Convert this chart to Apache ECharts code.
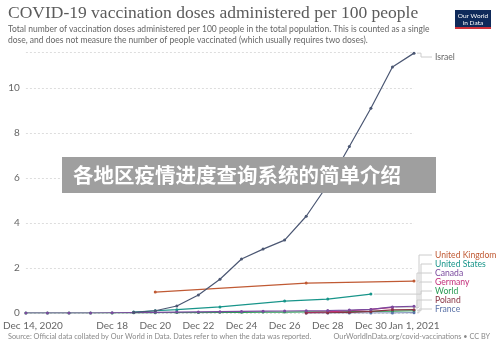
<!DOCTYPE html>
<html>
<head>
<meta charset="utf-8">
<script src="https://cdn.jsdelivr.net/npm/echarts@6/dist/echarts.min.js"></script>
<style>
  html, body { margin: 0; padding: 0; background: #fff; }
  #chart { width: 500px; height: 352px; }
</style>
</head>
<body>
<div id="chart"></div>
<script>
// dates Dec 14 2020 .. Jan 1 2021
const dates = [
  "Dec 14, 2020", "Dec 15", "Dec 16", "Dec 17", "Dec 18", "Dec 19", "Dec 20",
  "Dec 21", "Dec 22", "Dec 23", "Dec 24", "Dec 25", "Dec 26", "Dec 27",
  "Dec 28", "Dec 29", "Dec 30", "Dec 31", "Jan 1, 2021"
];
const shownTicks = ["Dec 14, 2020", "Dec 18", "Dec 20", "Dec 22", "Dec 24", "Dec 26", "Dec 28", "Dec 30", "Jan 1, 2021"];

// values per 100 people (null = no report that day)
const israel = [null, null, null, null, null, 0.03, 0.1, 0.31, 0.8, 1.5, 2.4, 2.84, 3.24, 4.3, 5.7, 7.4, 9.1, 10.93, 11.55];
const unitedKingdom = [null, null, null, null, null, null, 0.93, null, null, null, null, null, null, 1.33, null, null, null, null, 1.42];
const unitedStates = [null, null, null, null, null, 0.04, 0.1, 0.15, null, 0.27, null, null, 0.53, null, 0.62, null, 0.84, null, null];
const canada = [0.0, 0.0, 0.0, 0.0, 0.01, 0.02, 0.03, 0.04, 0.05, 0.06, 0.07, 0.08, 0.09, 0.1, 0.11, 0.13, 0.16, 0.27, 0.3];
const germany = [null, null, null, null, null, null, null, null, null, null, null, null, null, 0.02, 0.05, 0.1, 0.16, 0.25, null];
const world = [0.0, 0.0, 0.0, 0.0, 0.0, 0.01, 0.01, 0.02, 0.02, 0.03, 0.03, 0.04, 0.04, 0.05, 0.05, 0.06, 0.07, 0.08, 0.1];
const poland = [null, null, null, null, null, null, null, null, null, null, null, null, null, 0.0, 0.01, 0.03, 0.07, 0.14, 0.15];
const france = [null, null, null, null, null, null, null, null, null, null, null, null, null, 0.0, 0.0, 0.0, 0.0, 0.0, 0.01];

const countries = [
  { name: "Israel", data: israel, color: "#4b5773", labelColor: "#666", labelY: 57, z: 5 },
  { name: "United Kingdom", data: unitedKingdom, color: "#c05a34", labelY: 255, z: 2 },
  { name: "United States", data: unitedStates, color: "#18958a", labelY: 264, z: 2 },
  { name: "Canada", data: canada, color: "#7a4a9e", labelY: 273, z: 4 },
  { name: "Germany", data: germany, color: "#c22d79", labelY: 282, z: 3 },
  { name: "World", data: world, color: "#2b9d56", labelY: 291, z: 2 },
  { name: "Poland", data: poland, color: "#883343", labelY: 300, z: 3 },
  { name: "France", data: france, color: "#5b73a8", labelY: 309, z: 2 }
];

const chart = echarts.init(document.getElementById("chart"));

const option = {
  animation: false,
  textStyle: { fontFamily: "Lato, sans-serif" },
  grid: { left: 22, right: 86, top: 52, bottom: 39 },
  xAxis: {
    type: "category",
    data: dates,
    boundaryGap: false,
    axisLine: { show: false },
    axisTick: { show: false },
    axisLabel: {
      color: "#666",
      fontSize: 10,
      margin: 8,
      interval: (i, v) => shownTicks.includes(v),
      formatter: (v, i) => (i === 0 ? "{first|" + v + "}" : v),
      rich: { first: { color: "#666", fontSize: 10, padding: [0, 0, 0, 14] } }
    }
  },
  yAxis: {
    type: "value",
    min: 0,
    max: 11.6,
    interval: 2,
    axisLine: { show: false },
    axisTick: { show: false },
    axisLabel: {
      color: "#666",
      fontSize: 10,
      margin: 6,
      showMaxLabel: false
    },
    splitLine: { lineStyle: { color: "#ddd", type: [2, 2], width: 1 } }
  },
  series: countries.map((c) => ({
    name: c.name,
    type: "line",
    data: c.data,
    connectNulls: true,
    symbol: "circle",
    symbolSize: 3,
    z: c.z,
    lineStyle: { color: c.color, width: 1.2 },
    itemStyle: { color: c.color }
  })),
  graphic: [
    {
      type: "text", left: 8, top: 4,
      style: { text: "COVID-19 vaccination doses administered per 100 people", fill: "#5b5b5b",
        font: '17.5px "Liberation Serif", serif' }
    },
    {
      type: "text", left: 8, top: 24,
      style: {
        text: "Total number of vaccination doses administered per 100 people in the total population. This is counted as a single\ndose, and does not measure the number of people vaccinated (which usually requires two doses).",
        fill: "#666", font: "8.5px Lato, sans-serif", lineHeight: 11
      }
    },
    { type: "rect", shape: { x: 455, y: 10, width: 36, height: 19 }, style: { fill: "#0f2a5a" } },
    { type: "rect", shape: { x: 455, y: 27, width: 36, height: 2 }, style: { fill: "#d0313a" } },
    {
      type: "text", x: 473, y: 19,
      style: { text: "Our World\nin Data", fill: "#fff", font: "6.5px Lato, sans-serif", align: "center", verticalAlign: "middle", lineHeight: 7 }
    },
    {
      type: "text", left: 8, top: 333,
      style: { text: "Source: Official data collated by Our World in Data. Dates refer to when the data was reported.", fill: "#888", font: "7.3px Lato, sans-serif" }
    },
    {
      type: "text", right: 10, top: 333,
      style: { text: "OurWorldInData.org/covid-vaccinations • CC BY", fill: "#888", font: "7.3px Lato, sans-serif" }
    },
    {
      type: "rect", z: 100, shape: { x: 62, y: 157, width: 374, height: 36 }, style: { fill: "#9f9f9f" }
    },
    {
      type: "text", z: 101, x: 73, y: 175,
      style: { text: "各地区疫情进度查询系统的简单介绍", fill: "#fff", font: 'bold 20.5px "Noto Sans CJK SC", sans-serif', verticalAlign: "middle" }
    }
  ]
};

chart.setOption(option);

// end labels with elbow connectors
const extra = [];
countries.forEach((c, k) => {
  let last = c.data.length - 1;
  while (c.data[last] == null) last--;
  const p = chart.convertToPixel({ gridIndex: 0 }, [last, c.data[last]]);
  const elbowX = k === 0 ? 421 : 417 + (k % 3) * 2;
  extra.push({
    type: "polyline",
    shape: { points: [[p[0] + 3, p[1]], [elbowX, p[1]], [elbowX, c.labelY], [432, c.labelY]] },
    style: { stroke: "#ccc", lineWidth: 1, fill: null }
  });
  extra.push({
    type: "text", x: 435, y: c.labelY,
    style: { text: c.name, fill: c.labelColor || c.color, font: "8.6px Lato, sans-serif", verticalAlign: "middle" }
  });
});
chart.setOption({ graphic: option.graphic.concat(extra) });
</script>
</body>
</html>
